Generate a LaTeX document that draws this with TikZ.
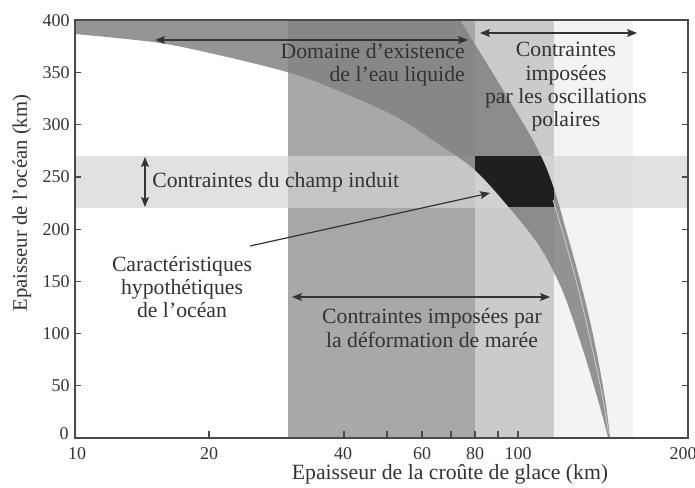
\documentclass[tikz,border=0pt]{standalone}
\usepackage{fontspec}
\setmainfont{Liberation Serif}
\usetikzlibrary{arrows.meta}
\definecolor{dband}{HTML}{A8A8A8}
\definecolor{lband}{HTML}{CBCBCB}
\definecolor{vlband}{HTML}{F3F3F3}
\definecolor{hband}{HTML}{D4D4D4}
\definecolor{domc}{HTML}{828282}
\definecolor{ink}{HTML}{333333}
\definecolor{framec}{HTML}{4A4A4A}
\newcommand{\dompath}{(75,20) -- (460,20) -- plot[smooth] coordinates {(460,20) (500,85) (530,135) (545,165) (556,195) (566,230) (575,262) (583,292) (592,330) (600,370) (606,405) (610,437)} -- (608,437) -- plot[smooth] coordinates {(608,437) (598,400) (583,350) (563,292) (540,247) (507,205) (475,170) (440,145) (393,115) (327,86) (287,72) (227,57) (160,43) (75,34)} -- cycle}
\tikzset{
  lab/.style={font=\fontsize{16.3}{17.5}\selectfont, text=ink, inner sep=0pt},
  ticklab/.style={font=\fontsize{13.5}{14}\selectfont, text=ink, inner sep=0pt},
  dblarrow/.style={{Stealth[length=7.5pt,width=6pt,inset=1.5pt]}-{Stealth[length=7.5pt,width=6pt,inset=1.5pt]}, draw=ink, line width=0.9pt},
  onearrow/.style={-{Stealth[length=7.5pt,width=6pt,inset=1.5pt]}, draw=ink, line width=0.9pt},
}
\begin{document}
\begin{tikzpicture}[x=0.75pt,y=-0.75pt]
\useasboundingbox (0,0) rectangle (695,488);
% vertical bands
\fill[dband] (288,20) rectangle (475,438);
\fill[lband] (475,20) rectangle (554,438);
\fill[vlband] (554,20) rectangle (633,438);
% horizontal band
\fill[hband, opacity=0.7] (75,156) rectangle (688,208);
% liquid water domain
\fill[domc, opacity=0.85] \dompath;
\begin{scope}
  \clip \dompath;
  \fill[black!88] (475,156) rectangle (554,207.5);
\end{scope}
\draw[white!60!gray, line width=0.6pt] plot[smooth] coordinates {(553,200) (562,230) (571,262) (579,292) (588,330) (597,370) (604,405) (608.5,433)};
% frame
\draw[framec, line width=1pt] (75,20) rectangle (688,438);
% ticks
\foreach \xx in {209,344,387,422,451,475,498,518} \draw[framec, line width=0.9pt] (\xx,438) -- (\xx,431);
\foreach \k in {1,...,7} {
  \draw[framec, line width=0.9pt] (75,438-52.2*\k) -- (81,438-52.2*\k);
  \draw[framec, line width=0.9pt] (688,438-52.2*\k) -- (682,438-52.2*\k);
}
% tick labels
\node[ticklab, anchor=east] (y0) at (69,434) {0};
\foreach \v [count=\k] in {50,100,150,200,250,300,350,400}
  \node[ticklab, anchor=east] (y\v) at (70,438-52.2*\k) {\v};
\foreach \v/\xx in {10/77,20/209,40/343,60/422,80/475,100/518,200/683}
  \node[ticklab] (x\v) at (\xx,454) {\v};
% axis titles
\node[lab, font=\fontsize{15.5}{17.5}\selectfont, rotate=90] (ytitle) at (22,203) {Epaisseur de l’océan (km)};
\node[lab] (xtitle) at (450,474.5) {Epaisseur de la croûte de glace (km)};
% texts
\node[lab, align=right, anchor=east] (dom) at (465,65) {Domaine d’existence\\de l’eau liquide};
\node[lab, align=center] (osc) at (566,87) {Contraintes\\imposées\\par les oscillations\\polaires};
\node[lab, anchor=west] (champ) at (152,182) {Contraintes du champ induit};
\node[lab, align=center] (carac) at (182,287) {Caractéristiques\\hypothétiques\\de l’océan};
\node[lab, align=center] (maree) at (432,328) {Contraintes imposées par\\la déformation de marée};
% arrow end points
\coordinate (a1l) at (155,40);
\coordinate (a1r) at (468,40);
\coordinate (a2l) at (480,33);
\coordinate (a2r) at (637,33);
\coordinate (a3t) at (145,157);
\coordinate (a3b) at (145,207);
\coordinate (a4s) at (250,246);
\coordinate (a4e) at (490,193);
\coordinate (a5l) at (292,297);
\coordinate (a5r) at (550,297);
\draw[dblarrow] (a1l) -- (a1r);
\draw[dblarrow] (a2l) -- (a2r);
\draw[dblarrow] (a3t) -- (a3b);
\draw[onearrow] (a4s) -- (a4e);
\draw[dblarrow] (a5l) -- (a5r);
\end{tikzpicture}
\end{document}
